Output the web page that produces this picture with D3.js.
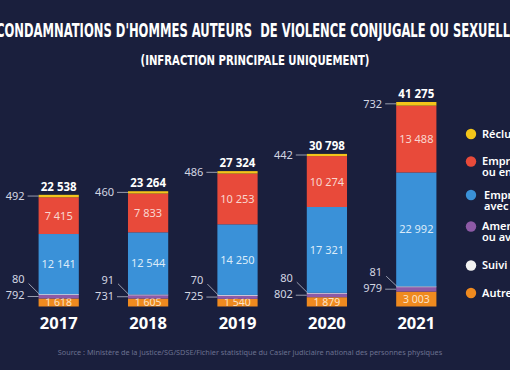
<!DOCTYPE html>
<html>
<head>
<meta charset="utf-8">
<script src="https://cdn.jsdelivr.net/npm/d3@7"></script>
<style>
  html, body { margin: 0; padding: 0; background: #1a1f3d; }
  svg { display: block; }
</style>
</head>
<body>
<svg id="chart" width="510" height="370"></svg>
<script>
var WIDTH = 510;
var HEIGHT = 370;

// data
var years = ["2017", "2018", "2019", "2020", "2021"];
var autres = [1618, 1605, 1540, 1879, 3003];
var amende = [792, 731, 725, 802, 979];
var suivi = [80, 91, 70, 80, 81];
var sursis = [12141, 12544, 14250, 17321, 22992];
var ferme = [7415, 7833, 10253, 10274, 13488];
var reclusion = [492, 460, 486, 442, 732];
var totals = [22538, 23264, 27324, 30798, 41275];

var keys = ["autres", "amende", "suivi", "sursis", "ferme", "reclusion"];
var colors = {
    autres: "#ef8a1f",
    amende: "#8d5aa6",
    suivi: "#f2f2f2",
    sursis: "#3a91d8",
    ferme: "#e84a3a",
    reclusion: "#f3c51a"
};
var textColors = {
    autres: "#fbe3c6",
    sursis: "#dcebf8",
    ferme: "#f9d6cf"
};
var legend = [
    { key: "reclusion", lines: ["Réclusion criminelle"] },
    { key: "ferme", lines: ["Emprisonnement ferme", "ou en partie ferme"] },
    { key: "sursis", lines: ["Emprisonnement", "avec sursis total"] },
    { key: "amende", lines: ["Amende ferme", "ou avec sursis"] },
    { key: "suivi", lines: ["Suivi socio-judiciaire"] },
    { key: "autres", lines: ["Autres peines"] }
];

var rows = years.map(function(y, i) {
    return { year: y, autres: autres[i], amende: amende[i], suivi: suivi[i],
        sursis: sursis[i], ferme: ferme[i], reclusion: reclusion[i], total: totals[i] };
});

var fmt = function(v) { return d3.format(",")(v).replace(/,/g, " "); };

var svg = d3.select("#chart");

svg.append("rect").attr("width", WIDTH).attr("height", HEIGHT).attr("fill", "#1a1f3d");

// titles
svg.append("text")
    .attr("x", 257).attr("y", 37)
    .attr("text-anchor", "middle")
    .attr("textLength", 522).attr("lengthAdjust", "spacingAndGlyphs")
    .style("white-space", "pre")
    .style("font-family", "'Liberation Sans Narrow', 'DejaVu Sans Condensed', sans-serif")
    .style("font-weight", "bold").style("font-size", "19.5px")
    .attr("fill", "#ffffff")
    .text("CONDAMNATIONS D'HOMMES AUTEURS  DE VIOLENCE CONJUGALE OU SEXUELLE");

svg.append("text")
    .attr("x", 255).attr("y", 65)
    .attr("text-anchor", "middle")
    .attr("textLength", 229).attr("lengthAdjust", "spacingAndGlyphs")
    .style("font-family", "'Liberation Sans Narrow', 'DejaVu Sans Condensed', sans-serif")
    .style("font-weight", "bold").style("font-size", "14px")
    .attr("fill", "#ffffff")
    .text("(INFRACTION PRINCIPALE UNIQUEMENT)");

var x = d3.scaleBand()
    .domain(years)
    .range([14, 461])
    .paddingInner(0.55)
    .paddingOuter(0.275);

var y = d3.scaleLinear()
    .domain([0, 41275])
    .range([306.5, 102]);

var series = d3.stack().keys(keys)(rows);

var g = svg.append("g");

series.forEach(function(s) {
    g.selectAll(null)
        .data(s)
        .enter()
        .append("rect")
        .attr("x", function(d) { return x(d.data.year); })
        .attr("width", x.bandwidth())
        .attr("y", function(d) { return y(d[1]); })
        .attr("height", function(d) { return Math.max(y(d[0]) - y(d[1]), 0.8); })
        .attr("fill", colors[s.key]);

    // labels inside the big segments
    if (textColors[s.key]) {
        g.selectAll(null)
            .data(s)
            .enter()
            .append("text")
            .attr("x", function(d) { return x(d.data.year) + x.bandwidth() / 2; })
            .attr("y", function(d) { return (y(d[0]) + y(d[1])) / 2; })
            .attr("dy", "0.36em")
            .attr("text-anchor", "middle")
            .style("font-family", "'Noto Sans', sans-serif")
            .style("font-size", s.key == "autres" ? "10.5px" : "11px")
            .attr("fill", textColors[s.key])
            .text(function(d) { return fmt(d.data[s.key]); });
    }
});

var labelStyle = function(sel) {
    sel.style("font-family", "'Noto Sans', sans-serif")
        .style("font-size", "11px")
        .attr("fill", "#d3d6e2");
};

// side labels with leader lines
rows.forEach(function(d) {
    var left = x(d.year);
    var topY = y(d.total) + (y(d.total - d.reclusion) - y(d.total)) / 2;
    var amMid = y(d.autres + d.amende / 2);
    var suY = y(d.autres + d.amende + d.suivi / 2);

    g.append("line")
        .attr("x1", left - 11).attr("x2", left)
        .attr("y1", topY).attr("y2", topY)
        .attr("stroke", "#b9bccb").attr("stroke-width", 0.8);
    g.append("text")
        .attr("x", left - 14).attr("y", topY).attr("dy", "0.36em")
        .attr("text-anchor", "end")
        .call(labelStyle)
        .text(fmt(d.reclusion));

    g.append("line")
        .attr("x1", left - 11).attr("x2", left)
        .attr("y1", amMid).attr("y2", amMid)
        .attr("stroke", "#b9bccb").attr("stroke-width", 0.8);
    g.append("text")
        .attr("x", left - 14).attr("y", amMid - 1).attr("dy", "0.36em")
        .attr("text-anchor", "end")
        .call(labelStyle)
        .text(fmt(d.amende));

    g.append("line")
        .attr("x1", left - 10).attr("x2", left + 1)
        .attr("y1", amMid - 13).attr("y2", suY)
        .attr("stroke", "#b9bccb").attr("stroke-width", 0.8);
    g.append("text")
        .attr("x", left - 14).attr("y", amMid - 17).attr("dy", "0.36em")
        .attr("text-anchor", "end")
        .call(labelStyle)
        .text(fmt(d.suivi));

    g.append("text")
        .attr("x", left + x.bandwidth() / 2).attr("y", y(d.total) - 4)
        .attr("text-anchor", "middle")
        .style("font-family", "'Noto Sans', sans-serif")
        .style("font-weight", "bold").style("font-size", "11.5px")
        .attr("fill", "#ffffff")
        .text(fmt(d.total));
});

// year axis
var axis = svg.append("g")
    .attr("transform", "translate(0,329)")
    .call(d3.axisBottom(x).tickSize(0).tickPadding(0));
axis.select(".domain").remove();
axis.selectAll("text")
    .attr("dy", 0)
    .style("font-family", "'Noto Sans', sans-serif")
    .style("font-weight", "bold").style("font-size", "16.5px")
    .attr("fill", "#ffffff");

// legend
var leg = svg.append("g").attr("transform", "translate(471,0)");
var legY = [134, 161.5, 195, 226.5, 265.5, 293];
legend.forEach(function(l, i) {
    leg.append("circle")
        .attr("cx", 0).attr("cy", legY[i]).attr("r", 5.2)
        .attr("fill", colors[l.key]);
    l.lines.forEach(function(t, j) {
        leg.append("text")
            .attr("x", l.key == "sursis" ? 13 : 11)
            .attr("y", legY[i] + j * 11).attr("dy", "0.36em")
            .style("font-family", "'Noto Sans', sans-serif")
            .style("font-weight", 600).style("font-size", "11px")
            .attr("fill", "#ffffff")
            .text(t);
    });
});

// source
svg.append("text")
    .attr("x", 250).attr("y", 355)
    .attr("text-anchor", "middle")
    .style("font-family", "'Noto Sans', sans-serif")
    .style("font-size", "7.3px")
    .attr("fill", "#6b7190")
    .text("Source : Ministère de la justice/SG/SDSE/Fichier statistique du Casier judiciaire national des personnes physiques");
</script>
</body>
</html>
